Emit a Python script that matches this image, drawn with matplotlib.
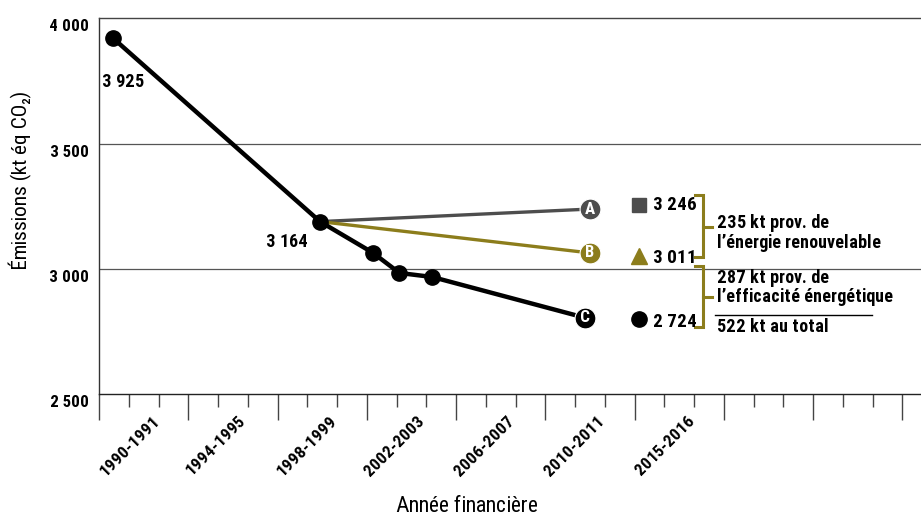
import os
import matplotlib
matplotlib.use('Agg')
import matplotlib.pyplot as plt
import matplotlib.transforms as mtransforms
from matplotlib import font_manager as fm

# plain glyph scaling, helps the slanted labels render cleanly
plt.rcParams['text.hinting_factor'] = 1

# look for a condensed face (the reference uses a narrow gothic)
entries = fm.fontManager.ttflist


def pick(keys):
    for k in keys:
        for e in entries:
            if os.path.basename(e.fname).lower() == k:
                return e
    return None


BOLD = pick(['liberationsansnarrow-bold.ttf', 'robotocondensed-bold.ttf',
             'notosans-condensedbold.ttf', 'opensans-condensedbold.ttf',
             'dejavusanscondensed-bold.ttf'])
REG = pick(['liberationsansnarrow-regular.ttf', 'robotocondensed-regular.ttf',
            'notosans-condensed.ttf', 'opensans-condensed.ttf',
            'dejavusanscondensed.ttf'])


def fp(size, bold=True):
    e = BOLD if bold else REG
    if e is not None:
        p = fm.FontProperties(family=[e.name, 'DejaVu Sans'], weight=e.weight,
                              stretch=e.stretch, style=e.style)
    else:
        p = fm.FontProperties(family='DejaVu Sans', weight='bold' if bold else 'normal')
        size = size * 0.8
    p.set_size(size)
    return p


# x axis: tick intervals, labels every 3 intervals
n_ticks = 28
year_labels = ['1990-1991', '1994-1995', '1998-1999', '2002-2003',
               '2006-2007', '2010-2011', '2015-2016']
label_pos = [1.78, 4.64, 7.73, 10.68, 13.7, 16.74, 19.75]

# series C (measured emissions + efficiency scenario)
c_x = [0.47, 7.43, 9.2, 10.1, 11.2]
c_y = [3921, 3189, 3065, 2984, 2968]
c_end = (16.35, 2805)

# scenarios A and B start at the 1998-1999 point
a_x = [7.43, 16.5]
a_y = [3189, 3239]
b_x = [7.43, 16.5]
b_y = [3189, 3064]

# right side values
val_texts = ['3 246', '3 011', '2 724']
val_y = [3255, 3044, 2789]
mark_y = [3255, 3052, 2800]

GRAY = '#4d4d4d'
OLIVE = '#8c7d1c'

fig = plt.figure(figsize=(9.21, 5.17), dpi=100)
ax = fig.add_axes([99 / 921, (517 - 394.3) / 517, 822 / 921, 376 / 517])
ax.set_xlim(0, 27.63)
ax.set_ylim(2500, 4000)

# frame and grid
ax.spines['right'].set_visible(False)
ax.spines['left'].set_color('#333333')
ax.spines['top'].set_color('#444444')
ax.spines['bottom'].set_color('#222222')
for s in ['left', 'top', 'bottom']:
    ax.spines[s].set_linewidth(1.0)
for g in [3000, 3500]:
    ax.axhline(g, color='#555555', lw=0.9, zorder=1)

ax.set_yticks([2500, 3000, 3500, 4000])
ax.set_yticklabels(['2 500', '3 000', '3 500', '4 000'])
ax.tick_params(axis='y', length=0, pad=7)
off = mtransforms.ScaledTranslation(0, -7 / 100, fig.dpi_scale_trans)
for t in ax.get_yticklabels():
    t.set_fontproperties(fp(12))
    t.set_transform(t.get_transform() + off)

ax.set_xticks(range(0, n_ticks, 3))
ax.set_xticks(range(n_ticks), minor=True)
ax.set_xticklabels([])
ax.tick_params(axis='x', which='major', length=19, width=1, color='#444444', direction='out')
ax.tick_params(axis='x', which='minor', length=9.5, width=1, color='#444444', direction='out')

# year labels sit between the ticks, slanted
lbl_off = mtransforms.ScaledTranslation(0, -19 / 100, fig.dpi_scale_trans)
tr = ax.get_xaxis_transform() + lbl_off
for lab, p in zip(year_labels, label_pos):
    ax.text(p, 0, lab, transform=tr, rotation=45, rotation_mode='anchor',
            ha='right', va='top', clip_on=False, fontproperties=fp(12))

# lines
ax.plot(a_x, a_y, color=GRAY, lw=2.4, zorder=3, solid_capstyle='round')
ax.plot(b_x, b_y, color=OLIVE, lw=2.4, zorder=3, solid_capstyle='round')
ax.plot(c_x + [c_end[0]], c_y + [c_end[1]], color='black', lw=3.2, zorder=4)
ax.plot(c_x, c_y, 'o', color='black', ms=11, zorder=5)

# letter badges
for (x, y, col, let) in [(a_x[-1], a_y[-1], GRAY, 'A'), (b_x[-1], b_y[-1], OLIVE, 'B'),
                         (c_end[0], c_end[1], 'black', 'C')]:
    ax.plot([x], [y], 'o', color=col, ms=15, mec='white', mew=0.8, zorder=6)
    ax.text(x, y, let, color='white', fontproperties=fp(12),
            ha='center', va='center', zorder=7)

# data labels
ax.text(0.1, 3745, '3 925', fontproperties=fp(13), ha='left', va='center')
ax.text(5.6, 3107, '3 164', fontproperties=fp(13), ha='left', va='center')

# right side legend markers and values
mx = 18.15
ax.plot([mx], [mark_y[0]], 's', color=GRAY, ms=10, clip_on=False, zorder=5)
ax.plot([mx], [mark_y[1]], '^', color=OLIVE, ms=12, clip_on=False, zorder=5)
ax.plot([mx], [mark_y[2]], 'o', color='black', ms=11, clip_on=False, zorder=5)
for t, y in zip(val_texts, val_y):
    ax.text(18.62, y, t, fontproperties=fp(14), ha='left', va='center', zorder=6)

# brackets
for (y0, y1, ym) in [(3295, 3048, 3168), (3012, 2769, 2889)]:
    ax.plot([20.03, 20.3, 20.3, 20.03], [y0, y0, y1, y1], color=OLIVE, lw=2.2,
            solid_joinstyle='miter', clip_on=False, zorder=5)
    ax.plot([20.3, 20.6], [ym, ym], color=OLIVE, lw=2.2, clip_on=False, zorder=5)

tx = 20.77
notes = [('235 kt prov. de', 3184), ('l’énergie renouvelable', 3104),
         ('287 kt prov. de', 2964), ('l’efficacité énergétique', 2888),
         ('522 kt au total', 2769)]
for t, y in notes:
    ax.text(tx, y, t, fontproperties=fp(12.8), ha='left', va='center')
ax.plot([20.71, 25.99], [2817, 2817], color='black', lw=1, clip_on=False)

# axis titles
fig.text(20 / 921, 1 - 180 / 517, 'Émissions (kt éq CO₂)', rotation=90,
         fontproperties=fp(15, bold=False), ha='center', va='center')
fig.text(467 / 921, 1 - 507 / 517, 'Année financière',
         fontproperties=fp(16, bold=False), ha='center', va='center')

plt.savefig('out.png', dpi=100)
